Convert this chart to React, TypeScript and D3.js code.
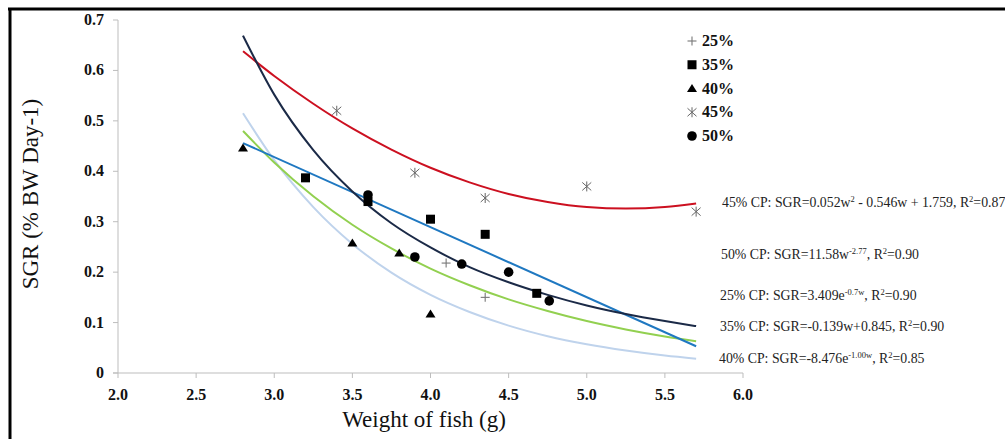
import React from 'react';
import * as d3 from 'd3';

// measured points per crude-protein level
const pts25 = [[4.1, 0.218], [4.35, 0.15]];
const pts35 = [[3.2, 0.387], [3.6, 0.34], [4.0, 0.305], [4.35, 0.275], [4.68, 0.158]];
const pts40 = [[2.8, 0.446], [3.5, 0.258], [3.8, 0.238], [4.0, 0.117]];
const pts45 = [[3.4, 0.52], [3.9, 0.397], [4.35, 0.347], [5.0, 0.37], [5.7, 0.32]];
const pts50 = [[3.6, 0.353], [3.9, 0.23], [4.2, 0.216], [4.5, 0.2], [4.76, 0.143]];

// trend lines
const trendW = [2.8, 3.0, 3.25, 3.5, 3.75, 4.0, 4.25, 4.5, 4.75, 5.0, 5.25, 5.5, 5.7];
const trend45 = [0.638, 0.589, 0.534, 0.485, 0.443, 0.407, 0.378, 0.355, 0.339, 0.329, 0.326, 0.329, 0.336];
const trend50 = [0.669, 0.552, 0.442, 0.36, 0.297, 0.249, 0.21, 0.18, 0.155, 0.134, 0.117, 0.103, 0.093];
const trend25 = [0.48, 0.4175, 0.3505, 0.294, 0.247, 0.207, 0.174, 0.146, 0.123, 0.103, 0.0864, 0.0725, 0.063];
const trend40 = [0.515, 0.422, 0.329, 0.256, 0.199, 0.155, 0.121, 0.094, 0.073, 0.057, 0.0445, 0.0346, 0.0284];
const line35W = [2.8, 5.7];
const line35 = [0.456, 0.053];

const xTicks = [2.0, 2.5, 3.0, 3.5, 4.0, 4.5, 5.0, 5.5, 6.0];
const yTicks = [0, 0.1, 0.2, 0.3, 0.4, 0.5, 0.6, 0.7];
const legendLabels = ['25%', '35%', '40%', '45%', '50%'];

const App = () => {
  const width = 1005;
  const height = 439;

  const x = d3.scaleLinear().domain([2, 6]).range([118, 743]);
  const y = d3.scaleLinear().domain([0, 0.7]).range([373, 20]);

  const line = d3.line<number[]>()
    .x(d => x(d[0]))
    .y(d => y(d[1]))
    .curve(d3.curveMonotoneX);

  const zip = (ws: number[], vs: number[]) => ws.map((w, i) => [w, vs[i]]);

  const trends = [
    { pts: zip(trendW, trend45), color: '#cc1020' },
    { pts: zip(trendW, trend40), color: '#bfd3ec' },
    { pts: zip(trendW, trend25), color: '#92d050' },
    { pts: zip(line35W, line35), color: '#1f78c1' },
    { pts: zip(trendW, trend50), color: '#1b2a47' },
  ];

  // marker shapes
  const plus = (cx: number, cy: number, k: string) => (
    <g key={k} stroke="#777" strokeWidth={1.1}>
      <line x1={cx - 4.5} x2={cx + 4.5} y1={cy} y2={cy} />
      <line x1={cx} x2={cx} y1={cy - 4.5} y2={cy + 4.5} />
    </g>
  );
  const square = (cx: number, cy: number, k: string) => (
    <rect key={k} x={cx - 4.5} y={cy - 4.5} width={9} height={9} fill="#000" />
  );
  const tri = (cx: number, cy: number, k: string) => (
    <path key={k} d={`M${cx},${cy - 4.5}L${cx + 5},${cy + 3.5}L${cx - 5},${cy + 3.5}Z`} fill="#000" />
  );
  const star = (cx: number, cy: number, k: string) => (
    <g key={k} stroke="#666" strokeWidth={1}>
      <line x1={cx - 4.5} x2={cx + 4.5} y1={cy - 4} y2={cy + 4} />
      <line x1={cx - 4.5} x2={cx + 4.5} y1={cy + 4} y2={cy - 4} />
      <line x1={cx} x2={cx} y1={cy - 5} y2={cy + 5} />
    </g>
  );
  const dot = (cx: number, cy: number, k: string) => (
    <circle key={k} cx={cx} cy={cy} r={4.8} fill="#000" />
  );

  const groups = [
    { pts: pts25, mark: plus },
    { pts: pts35, mark: square },
    { pts: pts40, mark: tri },
    { pts: pts45, mark: star },
    { pts: pts50, mark: dot },
  ];

  const legendY = d3.scalePoint().domain(legendLabels).range([41, 136]);

  const sup = (t: string) => (
    <tspan fontSize={8.5} dy={-5}>{t}</tspan>
  );
  const back = (t: string) => <tspan dy={5}>{t}</tspan>;

  return (
    <svg width={width} height={height}
      style={{ position: 'absolute', left: 0, top: 0, background: '#fff', fontFamily: '"Liberation Serif", serif' }}>
      <rect width={width} height={height} fill="#fff" />
      {/* outer frame */}
      <line x1={8} x2={width} y1={9} y2={9} stroke="#000" strokeWidth={3} />
      <line x1={10} x2={10} y1={8} y2={height} stroke="#000" strokeWidth={3} />

      {/* axes */}
      <g stroke="#bdbdbd" strokeWidth={1}>
        <line x1={x(2)} x2={x(2)} y1={y(0.7)} y2={y(0)} />
        <line x1={113} x2={x(6)} y1={y(0)} y2={y(0)} />
        {yTicks.map(t => <line key={t} x1={113} x2={118} y1={y(t)} y2={y(t)} />)}
        {xTicks.map(t => <line key={t} x1={x(t)} x2={x(t)} y1={y(0)} y2={y(0) + 5} />)}
      </g>
      <g fontWeight="bold" fontSize={16} fill="#111">
        {yTicks.map(t => (
          <text key={t} x={104} y={y(t) + 5} textAnchor="end">{t === 0 ? '0' : t.toFixed(1)}</text>
        ))}
        {xTicks.map(t => (
          <text key={t} x={x(t)} y={400} textAnchor="middle">{t.toFixed(1)}</text>
        ))}
      </g>

      <text transform="translate(38,194) rotate(-90)" textAnchor="middle" fontSize={23} fill="#111">
        SGR (% BW Day-1)
      </text>
      <text x={424} y={427} textAnchor="middle" fontSize={23} fill="#111">Weight of fish (g)</text>

      {/* trend lines */}
      {trends.map((t, i) => (
        <path key={i} d={line(t.pts) || ''} fill="none" stroke={t.color} strokeWidth={2} />
      ))}

      {/* data points */}
      {groups.map((g, gi) => g.pts.map((p, i) => g.mark(x(p[0]), y(p[1]), `${gi}-${i}`)))}

      {/* legend */}
      {legendLabels.map((l, i) => (
        <g key={l}>
          {groups[i].mark(692, (legendY(l) as number), `lg${i}`)}
          <text x={702} y={(legendY(l) as number) + 5} fontSize={16} fontWeight="bold" fill="#111">{l}</text>
        </g>
      ))}

      {/* fitted equations */}
      <g fontSize={13.8} fill="#222">
        <text x={722} y={207}>45% CP: SGR=0.052w{sup('2')}{back(' - 0.546w + 1.759, R')}{sup('2')}{back('=0.87')}</text>
        <text x={721} y={259}>50% CP: SGR=11.58w{sup('-2.77')}{back(', R')}{sup('2')}{back('=0.90')}</text>
        <text x={720} y={300}>25% CP: SGR=3.409e{sup('-0.7w')}{back(', R')}{sup('2')}{back('=0.90')}</text>
        <text x={720} y={331}>35% CP: SGR=-0.139w+0.845, R{sup('2')}{back('=0.90')}</text>
        <text x={719} y={363}>40% CP: SGR=-8.476e{sup('-1.00w')}{back(', R')}{sup('2')}{back('=0.85')}</text>
      </g>
    </svg>
  );
};

export default App;
